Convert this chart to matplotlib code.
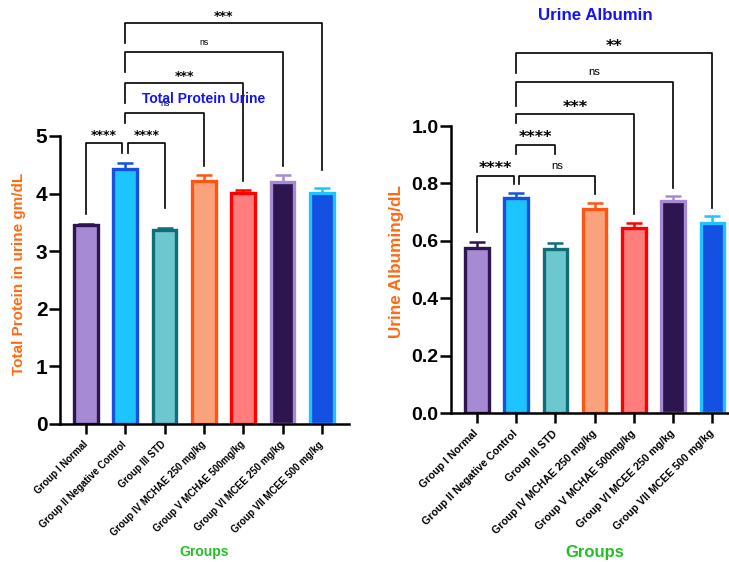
"""
Urine total protein and urine albumin by treatment group,
bar charts with upper SEM caps and significance brackets.
"""

import matplotlib
matplotlib.use('Agg')
import matplotlib.pyplot as plt

plt.rcParams['font.family'] = ['Liberation Sans', 'DejaVu Sans']

# Data
groups = ['Group I Normal', 'Group II Negative Control', 'Group III STD',
          'Group IV MCHAE 250 mg/kg', 'Group V MCHAE 500mg/kg',
          'Group VI MCEE 250 mg/kg', 'Group VII MCEE 500 mg/kg']

protein_mean = [3.45, 4.43, 3.37, 4.22, 4.01, 4.20, 4.01]
protein_err = [0.03, 0.10, 0.03, 0.10, 0.06, 0.12, 0.08]

albumin_mean = [0.575, 0.748, 0.572, 0.710, 0.645, 0.740, 0.662]
albumin_err = [0.022, 0.018, 0.020, 0.022, 0.016, 0.015, 0.023]

face_colors = ['#A68AD4', '#1EC4FF', '#6DC7CF', '#FAA27C', '#FF7D7D', '#2D1650', '#1450E2']
edge_colors = ['#2D1650', '#1450E2', '#0F6E78', '#FF5512', '#FF0000', '#A68AD4', '#1EC4FF']

# brackets: (x left, x right, top, left leg end, right leg end, label)
protein_brackets = [
    (0, 0.92, 4.88, 3.65, 4.70, '****'),
    (1.08, 2, 4.88, 4.70, 3.75, '****'),
    (1, 3, 5.40, 5.23, 4.48, 'ns'),
    (1, 4, 5.92, 5.57, 4.22, '***'),
    (1, 5, 6.46, 6.11, 4.48, 'ns'),
    (1, 6, 6.96, 6.61, 4.41, '***'),
]
albumin_brackets = [
    (0, 0.94, 0.826, 0.631, 0.798, '****'),
    (1.07, 3, 0.826, 0.798, 0.763, 'ns'),
    (1, 2, 0.934, 0.902, 0.902, '****'),
    (1, 4, 1.042, 1.010, 0.693, '***'),
    (1, 5, 1.153, 1.070, 0.784, 'ns'),
    (1, 6, 1.254, 1.185, 0.714, '**'),
]

ORANGE = '#FF6A13'
GREEN = '#22C022'
BLUE = '#1414F0'


def draw_panel(ax, means, errs, brackets, yticks, ylim, xlim,
               tick_fs, label_fs, star_fs, ns_fs):
    x = list(range(len(groups)))
    ax.bar(x, means, width=0.6, color=face_colors, edgecolor=edge_colors,
           linewidth=2.4, zorder=2)
    for xi, m, e, c in zip(x, means, errs, edge_colors):
        ax.errorbar(xi, m, yerr=[[0], [e]], color=c, elinewidth=1.8,
                    capsize=5.5, capthick=1.8, zorder=1)

    for x1, x2, top, yl, yr, lab in brackets:
        ax.plot([x1, x1, x2, x2], [yl, top, top, yr], color='black',
                lw=1.2, clip_on=False, zorder=3)
        if lab == 'ns':
            ax.annotate(lab, xy=((x1 + x2) / 2, top), xytext=(0, 7),
                        textcoords='offset points', ha='center', va='center',
                        fontsize=ns_fs, annotation_clip=False)
        else:
            ax.annotate(lab, xy=((x1 + x2) / 2, top), xytext=(0, 5),
                        textcoords='offset points', ha='center', va='center',
                        fontsize=star_fs, family='DejaVu Sans',
                        fontweight='bold', annotation_clip=False)

    ax.set_xlim(*xlim)
    ax.set_ylim(*ylim)
    ax.set_yticks(yticks)
    ax.set_xticks(x)
    ax.set_xticklabels(groups, rotation=45, ha='right', va='center',
                       rotation_mode='anchor', fontsize=label_fs,
                       fontweight='bold')
    for lbl in ax.get_yticklabels():
        lbl.set_fontsize(tick_fs)
        lbl.set_fontweight('bold')
    ax.spines['top'].set_visible(False)
    ax.spines['right'].set_visible(False)
    ax.spines['left'].set_linewidth(1.8)
    ax.spines['bottom'].set_linewidth(1.8)
    ax.tick_params(axis='y', length=8, width=1.8, pad=1)
    ax.tick_params(axis='x', length=7.5, width=1.8, pad=6)


fig = plt.figure(figsize=(7.29, 5.62), dpi=100)

ax1 = fig.add_axes([0.0823, 0.2456, 0.3964, 0.5125])
draw_panel(ax1, protein_mean, protein_err, protein_brackets,
           [0, 1, 2, 3, 4, 5], (0, 5), (-0.66, 6.69),
           tick_fs=15, label_fs=7, star_fs=9, ns_fs=6.3)
ax1.set_yticklabels(['0', '1', '2', '3', '4', '5'])

ax2 = fig.add_axes([0.6187, 0.2651, 0.38, 0.5107])
draw_panel(ax2, albumin_mean, albumin_err, albumin_brackets,
           [0, 0.2, 0.4, 0.6, 0.8, 1.0], (0, 1.0), (-0.66, 6.40),
           tick_fs=14, label_fs=7.7, star_fs=11.5, ns_fs=8.2)
ax2.set_yticklabels(['0.0', '0.2', '0.4', '0.6', '0.8', '1.0'])

# titles and axis labels
fig.text(204 / 729, 1 - 99 / 562, 'Total Protein Urine', color=BLUE,
         fontsize=10, fontweight='bold', ha='center', va='center', zorder=5)
fig.text(595 / 729, 1 - 15 / 562, 'Urine Albumin', color=BLUE,
         fontsize=12.2, fontweight='bold', ha='center', va='center')

fig.text(19 / 729, 1 - 274 / 562, 'Total Protein in urine gm/dL', color=ORANGE,
         fontsize=11, fontweight='bold', rotation=90, ha='center', va='center')
fig.text(397 / 729, 1 - 262 / 562, 'Urine Albuming/dL', color=ORANGE,
         fontsize=12.3, fontweight='bold', rotation=90, ha='center', va='center')

fig.text(204 / 729, 1 - 552 / 562, 'Groups', color=GREEN,
         fontsize=10, fontweight='bold', ha='center', va='center')
fig.text(595 / 729, 1 - 552 / 562, 'Groups', color=GREEN,
         fontsize=12, fontweight='bold', ha='center', va='center')

fig.savefig('out.png', dpi=100)
